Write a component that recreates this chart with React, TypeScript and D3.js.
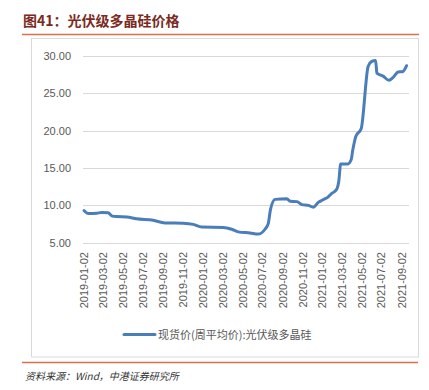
import React from "react";
import * as d3 from "d3";

const dates: string[] = [
  "2019-01-02","2019-01-15","2019-02-10","2019-02-25","2019-03-17","2019-03-28","2019-04-12",
  "2019-05-13","2019-06-12","2019-08-02","2019-09-07","2019-11-02","2019-12-03","2019-12-29",
  "2020-03-04","2020-03-30","2020-04-19","2020-05-25","2020-06-19","2020-07-10","2020-07-20",
  "2020-07-27","2020-08-10","2020-09-15","2020-09-25","2020-10-16","2020-10-31","2020-11-20",
  "2020-12-05","2020-12-20","2021-01-04","2021-01-19","2021-01-29","2021-02-14","2021-02-21",
  "2021-02-27","2021-03-21","2021-03-31","2021-04-05","2021-04-14","2021-05-01","2021-05-22",
  "2021-06-01","2021-06-14","2021-06-18","2021-07-07","2021-07-25","2021-08-06","2021-08-22",
  "2021-09-05","2021-09-17"
];
const prices: number[] = [
  9.3, 8.9, 8.95, 9.05, 9.0, 8.6, 8.5,
  8.45, 8.2, 8.0, 7.65, 7.6, 7.45, 7.1,
  7.05, 6.8, 6.45, 6.3, 6.15, 6.8, 7.6,
  9.5, 10.8, 10.9, 10.55, 10.5, 10.1, 10.0,
  9.75, 10.4, 10.75, 11.1, 11.55, 12.1, 13.2,
  15.55, 15.55, 16.1, 17.4, 19.2, 20.3, 28.6,
  29.25, 29.4, 27.7, 27.3, 26.75, 27.1, 27.85,
  27.9, 28.7
];
const yTicks: number[] = [5, 10, 15, 20, 25, 30];
const xTickLabels: string[] = [
  "2019-01-02","2019-03-02","2019-05-02","2019-07-02","2019-09-02","2019-11-02",
  "2020-01-02","2020-03-02","2020-05-02","2020-07-02","2020-09-02","2020-11-02",
  "2021-01-02","2021-03-02","2021-05-02","2021-07-02","2021-09-02"
];
const title = "图41：光伏级多晶硅价格";
const legendLabel = "现货价(周平均价):光伏级多晶硅";
const source = "资料来源：Wind，中港证券研究所";

const parse = d3.timeParse("%Y-%m-%d");

export default function App() {
  const W = 429, H = 390;
  const x = d3.scaleTime()
    .domain([parse("2019-01-02")!, parse("2021-09-02")!])
    .range([84, 401.7]);
  const y = d3.scaleLinear().domain([5, 30]).range([242.7, 56]);
  const data = dates.map((d, i) => ({ d: parse(d)!, v: prices[i] }));
  const line = d3.line<{ d: Date; v: number }>()
    .x(p => x(p.d))
    .y(p => y(p.v))
    .curve(d3.curveMonotoneX);
  const font = "'Liberation Sans', Arial, sans-serif";
  const axisColor = "#595959";
  const lineColor = "#4A7EBB";
  return (
    <svg width={W} height={H} style={{ position: "absolute", left: 0, top: 0, background: "#fff" }}>
      <text x={23} y={26} fontSize={14} fontWeight="bold" fill="#7B2A22"
        fontFamily="'Noto Sans CJK SC', sans-serif">{title}</text>
      <line x1={22} x2={419} y1={34.5} y2={34.5} stroke="#D9704A" strokeWidth={1.5} />
      <rect x={31.5} y={38.5} width={387} height={318.5} fill="none" stroke="#D9D9D9" strokeWidth={1} />
      {yTicks.map(t => (
        <g key={t}>
          <line x1={83} x2={409} y1={Math.round(y(t)) + 0.5} y2={Math.round(y(t)) + 0.5}
            stroke="#D9D9D9" strokeWidth={1} />
          <text x={71} y={y(t) + 4} textAnchor="end" fontSize={11} fill={axisColor}
            fontFamily={font}>{t.toFixed(2)}</text>
        </g>
      ))}
      {xTickLabels.map(l => {
        const px = x(parse(l)!);
        return (
          <text key={l} transform={`translate(${px + 4},252) rotate(-90)`} textAnchor="end"
            fontSize={11} fill={axisColor} fontFamily={font}>{l}</text>
        );
      })}
      <path d={line(data) || ""} fill="none" stroke={lineColor} strokeWidth={3}
        strokeLinejoin="round" strokeLinecap="round" />
      <line x1={124} x2={155} y1={334.5} y2={334.5} stroke={lineColor} strokeWidth={3} strokeLinecap="round" />
      <text x={158} y={338.5} fontSize={11} fill={axisColor}
        fontFamily="'Noto Sans CJK SC', sans-serif">{legendLabel}</text>
      <line x1={22} x2={418} y1={362.5} y2={362.5} stroke="#D9704A" strokeWidth={1.5} />
      <text x={25} y={380} fontSize={10} fontStyle="italic" fill="#333"
        fontFamily="'Noto Sans CJK SC', sans-serif">{source}</text>
    </svg>
  );
}
